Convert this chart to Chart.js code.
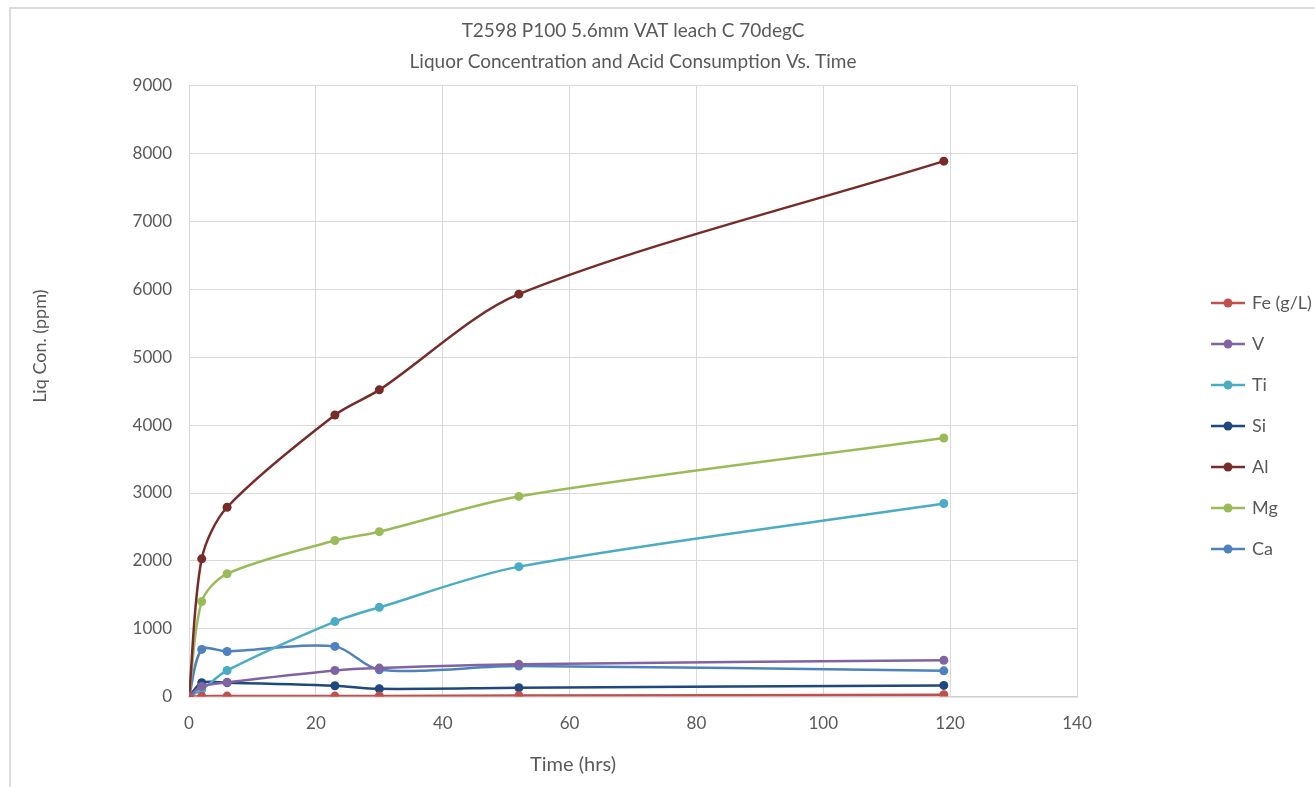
<!DOCTYPE html>
<html>
<head>
<meta charset="utf-8">
<script src="https://cdn.jsdelivr.net/npm/chart.js@4.4.1/dist/chart.umd.min.js"></script>
<style>
  html, body { margin: 0; padding: 0; background: #fff; overflow: hidden; }
  #frame { position: absolute; left: 9px; top: 7px; width: 1400px; height: 900px;
           border-left: 2px solid #dcdcdc; border-top: 2px solid #dcdcdc; }
  #wrap { position: absolute; left: 0; top: 0; width: 1315px; height: 787px; }
</style>
</head>
<body>
<div id="frame"></div>
<div id="wrap"><canvas id="chart"></canvas></div>
<script>
// sample times (hrs)
const hours = [0, 2, 6, 23, 30, 52, 119];

// liquor concentrations per element
const fe = [0, 5, 8, 8, 10, 15, 28];
const v  = [0, 150, 210, 385, 420, 475, 535];
const ti = [0, 100, 385, 1105, 1315, 1915, 2845];
const si = [0, 205, 205, 160, 115, 130, 165];
const al = [0, 2030, 2790, 4150, 4520, 5930, 7890];
const mg = [0, 1400, 1810, 2300, 2430, 2950, 3810];
const ca = [0, 695, 665, 740, 395, 450, 380];

const seriesNames  = ['Fe (g/L)', 'V', 'Ti', 'Si', 'Al', 'Mg', 'Ca'];
const seriesValues = [fe, v, ti, si, al, mg, ca];
const seriesColors = ['#C0504D', '#8064A2', '#4BACC6', '#1F497D', '#772C2A', '#9BBB59', '#4F81BD'];

const titleLines = ['T2598 P100 5.6mm VAT leach C 70degC', 'Liquor Concentration and Acid Consumption Vs. Time'];
// Excel puts the axis titles a bit off-centre; padding spaces mimic that
const xTitle = 'Time (hrs)' + '\u2003'.repeat(8);
const yTitle = '\u2003'.repeat(6) + '\u2002' + 'Liq Con. (ppm)';

const textColor = '#595959';
const gridColor = '#d9d9d9';
const fontFamily = 'Lato, "Open Sans", sans-serif';

// legend marker: short line with a dot, like Excel
function legendMarker(color) {
  const c = document.createElement('canvas');
  c.width = 34; c.height = 12;
  const g = c.getContext('2d');
  g.strokeStyle = color;
  g.lineWidth = 2.5;
  g.beginPath(); g.moveTo(0, 6); g.lineTo(34, 6); g.stroke();
  g.fillStyle = color;
  g.beginPath(); g.arc(17, 6, 4.5, 0, Math.PI * 2); g.fill();
  return c;
}
const markers = seriesColors.map(legendMarker);

const datasets = seriesNames.map((name, i) => ({
  label: name,
  data: hours.map((h, j) => ({ x: h, y: seriesValues[i][j] })),
  borderColor: seriesColors[i],
  backgroundColor: seriesColors[i],
  borderWidth: 2.5,
  pointRadius: 4.5,
  pointBorderWidth: 0,
  tension: 0.3
}));

new Chart(document.getElementById('chart'), {
  type: 'line',
  data: { datasets },
  options: {
    responsive: true,
    maintainAspectRatio: false,
    animation: false,
    layout: { padding: { left: 20, right: 0, top: 0, bottom: 8 } },
    plugins: {
      tooltip: { enabled: false },
      title: {
        display: true,
        text: titleLines,
        color: textColor,
        fullSize: false,
        font: { family: fontFamily, size: 19, weight: 'normal', lineHeight: 1.6 },
        padding: { top: 16, bottom: 9 }
      },
      legend: {
        position: 'right',
        align: 'center',
        maxWidth: 125,
        title: { display: true, text: ' ', font: { size: 10 }, padding: { top: 0, bottom: 61 } },
        labels: {
          usePointStyle: true,
          pointStyleWidth: 30,
          padding: 23,
          color: textColor,
          font: { family: fontFamily, size: 18 },
          generateLabels(chart) {
            const items = Chart.defaults.plugins.legend.labels.generateLabels(chart);
            items.forEach((it, i) => { it.pointStyle = markers[i]; });
            return items;
          }
        }
      }
    },
    scales: {
      x: {
        type: 'linear',
        min: 0, max: 140,
        ticks: { stepSize: 20, color: textColor, padding: 17, font: { family: fontFamily, size: 17 } },
        grid: { color: gridColor, drawTicks: false, tickLength: 0 },
        border: { color: '#cfcfcf', width: 1.5 },
        title: {
          display: true, text: xTitle, color: textColor,
          font: { family: fontFamily, size: 20 },
          padding: { top: 2, bottom: 2 }
        }
      },
      y: {
        min: 0, max: 9000,
        ticks: {
          stepSize: 1000, color: textColor, padding: 17,
          format: { useGrouping: false },
          font: { family: fontFamily, size: 17 }
        },
        grid: { color: gridColor, drawTicks: false, tickLength: 0 },
        border: { display: false },
        title: {
          display: true, text: yTitle, color: textColor,
          font: { family: fontFamily, size: 18 },
          padding: { top: 9, bottom: 65 }
        }
      },
      gap: {
        type: 'linear',
        position: 'right',
        display: true,
        grid: { display: false },
        ticks: { display: false },
        border: { display: false },
        afterFit(scale) { scale.width = 113; }
      }
    }
  }
});
</script>
</body>
</html>
